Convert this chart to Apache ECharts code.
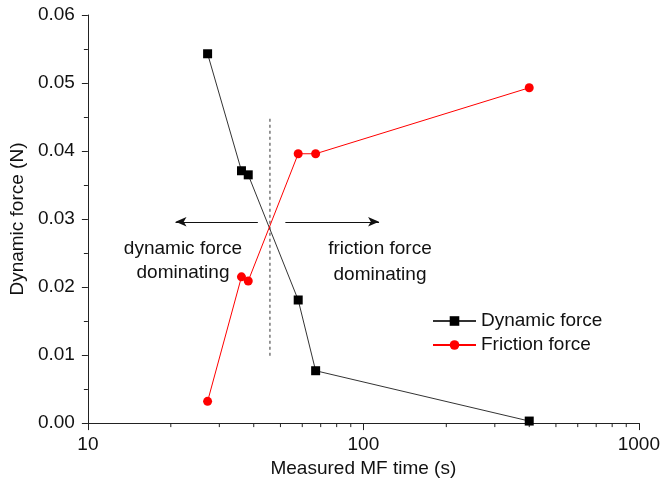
<!DOCTYPE html>
<html>
<head>
<meta charset="utf-8">
<script src="https://cdn.jsdelivr.net/npm/echarts@6/dist/echarts.min.js"></script>
<style>html,body{margin:0;padding:0;background:#fff}#c{width:663px;height:483px}</style>
</head>
<body>
<div id="c"></div>
<script>
// MF time (s) for each measured sample
var timeDyn = [27.2, 36.1, 38.2, 58.0, 67.1, 400];
var dynamicForce = [0.0543, 0.0371, 0.0365, 0.0181, 0.0077, 0.0003];
var timeFric = [27.2, 36.1, 38.2, 58.0, 67.1, 400];
var frictionForce = [0.0032, 0.0215, 0.0209, 0.0396, 0.0396, 0.0493];
var seriesNames = ['Dynamic force', 'Friction force'];
var yTicks = [0, 0.01, 0.02, 0.03, 0.04, 0.05, 0.06];
var xMinorTicks = [20, 30, 40, 50, 60, 70, 80, 90, 200, 300, 400, 500, 600, 700, 800, 900];
var boundaryTime = 45.8;
var boundaryRange = [0.0099, 0.0448];
var arrowLevel = 0.0296;
var arrowLeft = [41.4, 20.8];
var arrowRight = [52.1, 114];

var FONT = '"Liberation Sans", Arial, sans-serif';
var chart = echarts.init(document.getElementById('c'));
var axisColor = '#222';
chart.setOption({
  animation: false,
  backgroundColor: '#fff',
  grid: {left: 85, right: 20, top: 15, bottom: 57},
  xAxis: {
    type: 'log', logBase: 10, min: 10, max: 1000,
    name: 'Measured MF time (s)', nameLocation: 'middle', nameGap: 31,
    nameTextStyle: {fontFamily: FONT, fontSize: 19, color: '#111'},
    axisLine: {show: true, onZero: false, lineStyle: {color: axisColor, width: 1}},
    axisTick: {show: true, inside: false, length: 7, lineStyle: {color: axisColor}},
    axisLabel: {fontFamily: FONT, fontSize: 19, color: '#111', margin: 12,
      formatter: function (v) { return String(Math.round(v)); }},
    splitLine: {show: false}
  },
  yAxis: {
    type: 'value', min: 0, max: 0.06, interval: 0.01,
    name: 'Dynamic force (N)', nameLocation: 'middle', nameGap: 53,
    nameTextStyle: {fontFamily: FONT, fontSize: 19, color: '#111'},
    axisLine: {show: true, lineStyle: {color: axisColor, width: 1}},
    axisTick: {show: true, inside: false, length: 6, lineStyle: {color: axisColor}},
    minorTick: {show: true, splitNumber: 2, length: 4, lineStyle: {color: axisColor}},
    axisLabel: {fontFamily: FONT, fontSize: 19, color: '#111', margin: 13,
      formatter: function (v) { return v.toFixed(2); }},
    splitLine: {show: false}
  },
  legend: {
    data: seriesNames,
    orient: 'vertical', left: 432, top: 311, padding: 0,
    itemWidth: 43, itemHeight: 12, itemGap: 4,
    textStyle: {fontFamily: FONT, fontSize: 19, color: '#111', lineHeight: 20}
  },
  series: [
    {
      name: seriesNames[0], type: 'line',
      data: timeDyn.map(function (t, i) { return [t, dynamicForce[i]]; }),
      symbol: 'rect', symbolSize: 9, showAllSymbol: true,
      lineStyle: {color: '#333', width: 1},
      itemStyle: {color: '#000'},
      z: 3
    },
    {
      name: seriesNames[1], type: 'line',
      data: timeFric.map(function (t, i) { return [t, frictionForce[i]]; }),
      symbol: 'circle', symbolSize: 9, showAllSymbol: true,
      lineStyle: {color: '#f00', width: 1},
      itemStyle: {color: '#f00'},
      z: 3
    },
    {
      name: 'boundary', type: 'line', silent: true,
      data: [[boundaryTime, boundaryRange[0]], [boundaryTime, boundaryRange[1]]],
      symbol: 'none',
      lineStyle: {color: '#333', width: 1, type: [3, 3]},
      markLine: {
        silent: true, animation: false,
        symbol: ['none', 'arrow'], symbolSize: [7, 11],
        label: {show: false},
        lineStyle: {color: '#111', width: 1, type: 'solid'},
        data: [
          [{coord: [arrowLeft[0], arrowLevel]}, {coord: [arrowLeft[1], arrowLevel]}],
          [{coord: [arrowRight[0], arrowLevel]}, {coord: [arrowRight[1], arrowLevel]}]
        ]
      },
      z: 2
    },
    {
      name: 'minorTicks', type: 'custom', silent: true, clip: false,
      data: xMinorTicks.map(function (v) { return [v, 0]; }),
      renderItem: function (params, api) {
        var p = api.coord([api.value(0), 0]);
        return {type: 'line', shape: {x1: p[0], y1: p[1], x2: p[0], y2: p[1] + 4},
          style: {stroke: axisColor, lineWidth: 1}};
      },
      z: 1
    }
  ],
  graphic: [
    {type: 'text', x: 183, y: 261, style: {
      text: 'dynamic force\ndominating', fill: '#111', font: '19px ' + FONT,
      align: 'center', verticalAlign: 'middle', lineHeight: 24}},
    {type: 'text', x: 380, y: 262, style: {
      text: 'friction force\ndominating', fill: '#111', font: '19px ' + FONT,
      align: 'center', verticalAlign: 'middle', lineHeight: 26}}
  ]
});
</script>
</body>
</html>
